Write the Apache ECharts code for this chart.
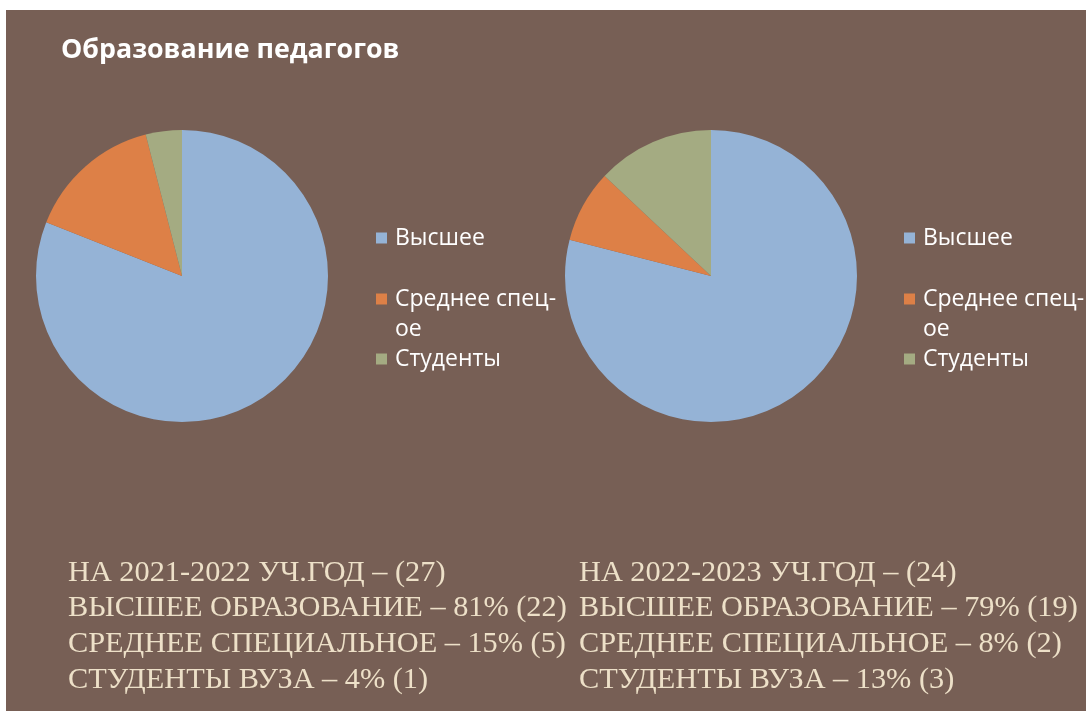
<!DOCTYPE html>
<html>
<head>
<meta charset="utf-8">
<script src="https://cdn.jsdelivr.net/npm/echarts@6/dist/echarts.min.js"></script>
<style>
html,body{margin:0;padding:0;background:#ffffff;width:1086px;height:711px;overflow:hidden;}
#chart{position:absolute;left:6px;top:10px;width:1080px;height:701px;}
</style>
</head>
<body>
<div id="chart"></div>
<script>
// ---- data ----
const title = 'Образование педагогов';
const categories = ['Высшее', 'Среднее спец-ое', 'Студенты'];
const values2021 = [81, 15, 4];
const values2022 = [79, 8, 13];
const notes2021 = [
  'НА 2021-2022 УЧ.ГОД – (27)',
  'ВЫСШЕЕ ОБРАЗОВАНИЕ – 81% (22)',
  'СРЕДНЕЕ СПЕЦИАЛЬНОЕ – 15% (5)',
  'СТУДЕНТЫ ВУЗА – 4% (1)'
];
const notes2022 = [
  'НА 2022-2023 УЧ.ГОД – (24)',
  'ВЫСШЕЕ ОБРАЗОВАНИЕ – 79% (19)',
  'СРЕДНЕЕ СПЕЦИАЛЬНОЕ – 8% (2)',
  'СТУДЕНТЫ ВУЗА – 13% (3)'
];
const colors = ['#95b3d6', '#dd8047', '#a4ab82'];

// ---- chart ----
const chart = echarts.init(document.getElementById('chart'));
const sansFont = '"Open Sans", "Noto Sans", sans-serif';
const legendTops = [213, 244, 334];
function legendFor(left) {
  return categories.map((name, i) => ({
    data: [name],
    orient: 'vertical',
    left: left,
    top: legendTops[i],
    padding: 0,
    itemWidth: 11,
    itemHeight: 11,
    itemGap: 0,
    icon: 'rect',
    selectedMode: false,
    formatter: n => n === 'Среднее спец-ое' ? '\nСреднее спец-\nое' : n,
    textStyle: {
      color: '#ffffff',
      fontSize: 23,
      fontFamily: sansFont,
      lineHeight: 30,
      padding: [0, 0, 0, 3]
    }
  }));
}
function pieSeries(values, cx) {
  return {
    type: 'pie',
    center: [cx, 266],
    radius: 146,
    startAngle: 90,
    clockwise: true,
    label: { show: false },
    labelLine: { show: false },
    emphasis: { disabled: true },
    itemStyle: { borderWidth: 0 },
    data: categories.map((c, i) => ({ name: c, value: values[i], itemStyle: { color: colors[i] } }))
  };
}
chart.setOption({
  backgroundColor: '#775f55',
  animation: false,
  title: {
    text: title,
    left: 50,
    top: 22,
    textStyle: { color: '#ffffff', fontSize: 26.8, fontWeight: 'bold', fontFamily: sansFont }
  },
  legend: legendFor(370).concat(legendFor(898)),
  series: [pieSeries(values2021, 176), pieSeries(values2022, 705)],
  graphic: [
    {
      type: 'text', left: 62, top: 545,
      style: { text: notes2021.join('\n'), fill: '#ede0c8', font: '30.3px "Liberation Serif", "Times New Roman", serif', lineHeight: 35.6 }
    },
    {
      type: 'text', left: 573, top: 545,
      style: { text: notes2022.join('\n'), fill: '#ede0c8', font: '30.3px "Liberation Serif", "Times New Roman", serif', lineHeight: 35.6 }
    }
  ]
});
</script>
</body>
</html>
